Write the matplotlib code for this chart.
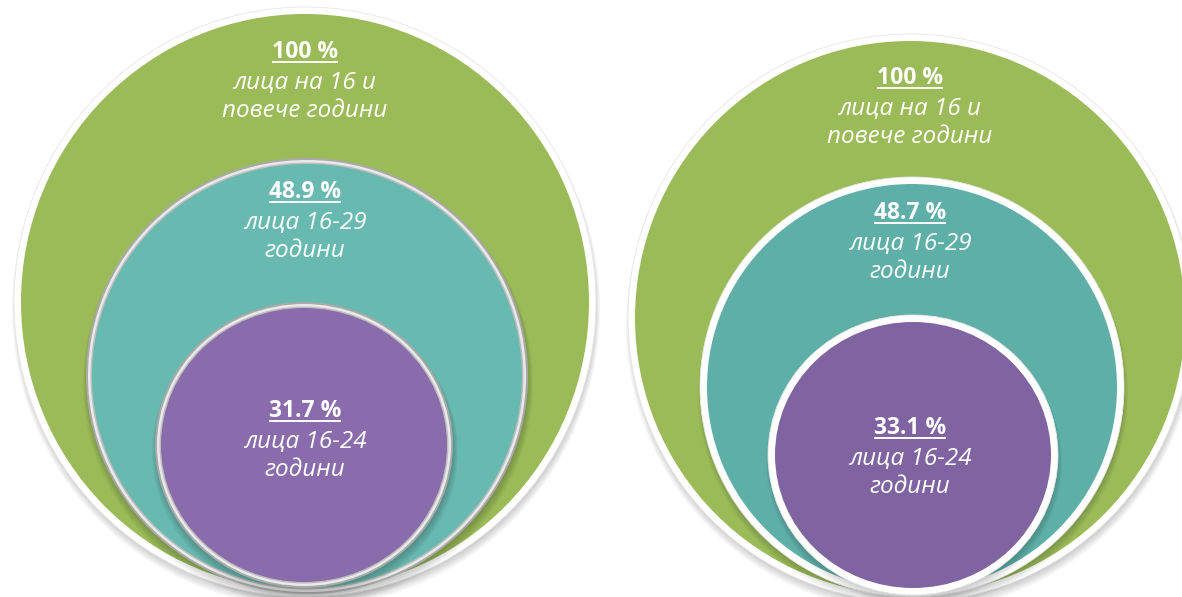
import matplotlib
matplotlib.use('Agg')
import matplotlib.pyplot as plt
from matplotlib.patches import Ellipse

plt.rcParams['font.family'] = ['Open Sans', 'DejaVu Sans']

# данни
percent_left = ['100 %', '48.9 %', '31.7 %']
percent_right = ['100 %', '48.7 %', '33.1 %']
group_labels = ['лица на 16 и\nповече години', 'лица 16-29\nгодини', 'лица 16-24\nгодини']

# цветове
green = '#9bbb59'
teal_left = '#68b9b0'
teal_right = '#5eafa7'
purple_left = '#8a6cac'
purple_right = '#8064a2'

fig = plt.figure(figsize=(11.82, 5.97), dpi=100)
ax = fig.add_axes([0, 0, 1, 1])
ax.set_xlim(0, 1182)
ax.set_ylim(597, 0)
ax.axis('off')

# геометрия на кръговете: (cx, cy, a, b)
left_geo = [(305, 302, 284, 288), (307, 376, 215, 212), (304, 445, 143, 137)]
right_geo = [(910, 318, 275, 277), (912, 387, 205, 203), (913, 455, 138, 133)]


def shadow(cx, cy, a, b, z):
    for k in range(6):
        ax.add_patch(Ellipse((cx + 1, cy + 3 + k * 0.8), 2 * a + 10 + k * 2, 2 * b + 10 + k * 2,
                             facecolor='black', edgecolor='none', alpha=0.035, zorder=z))


def silver_ring(cx, cy, a, b, color, z):
    shadow(cx, cy, a, b, z)
    ax.add_patch(Ellipse((cx, cy), 2 * a + 12, 2 * b + 12, facecolor='#a9a9a9', edgecolor='none', zorder=z + 0.1))
    ax.add_patch(Ellipse((cx, cy), 2 * a + 8, 2 * b + 8, facecolor='#e9e9e9', edgecolor='none', zorder=z + 0.2))
    ax.add_patch(Ellipse((cx, cy), 2 * a + 3, 2 * b + 3, facecolor='#bdbdbd', edgecolor='none', zorder=z + 0.3))
    ax.add_patch(Ellipse((cx, cy), 2 * a, 2 * b, facecolor=color, edgecolor='none', zorder=z + 0.4))


def white_ring(cx, cy, a, b, color, z, ring=7):
    shadow(cx, cy, a, b, z)
    ax.add_patch(Ellipse((cx, cy), 2 * a + 2 * ring, 2 * b + 2 * ring, facecolor='white',
                         edgecolor='#e6e6e6', linewidth=0.6, zorder=z + 0.1))
    ax.add_patch(Ellipse((cx, cy), 2 * a, 2 * b, facecolor=color, edgecolor='none', zorder=z + 0.4))


def label(x, y, pct, text, z):
    t = ax.text(x, y, pct, ha='center', va='center', fontsize=16.5, fontweight='bold',
                color='white', zorder=z)
    fig.canvas.draw()
    bb = t.get_window_extent().transformed(ax.transData.inverted())
    x0, x1 = sorted([bb.x0, bb.x1])
    ybot = max(bb.y0, bb.y1)
    ax.plot([x0, x1], [ybot - 2, ybot - 2], color='white', lw=1.4, zorder=z, solid_capstyle='butt')
    ax.text(x, y + 45, text, ha='center', va='center', fontsize=17.5, fontstyle='italic',
            color='white', zorder=z, linespacing=1.18)


# ляв кръг
cx, cy, a, b = left_geo[0]
white_ring(cx, cy, a, b, green, 1, ring=7)
cx, cy, a, b = left_geo[1]
silver_ring(cx, cy, a, b, teal_left, 2)
cx, cy, a, b = left_geo[2]
silver_ring(cx, cy, a, b, purple_left, 3)

# десен кръг
cx, cy, a, b = right_geo[0]
white_ring(cx, cy, a, b, green, 1, ring=7)
cx, cy, a, b = right_geo[1]
white_ring(cx, cy, a, b, teal_right, 2, ring=7)
cx, cy, a, b = right_geo[2]
white_ring(cx, cy, a, b, purple_right, 3, ring=7)

left_text_y = [52, 192, 411]
right_text_y = [78, 213, 428]
for i in range(3):
    label(305, left_text_y[i], percent_left[i], group_labels[i], 10)
    label(910, right_text_y[i], percent_right[i], group_labels[i], 10)

fig.savefig('out.png', dpi=100, facecolor='white')
